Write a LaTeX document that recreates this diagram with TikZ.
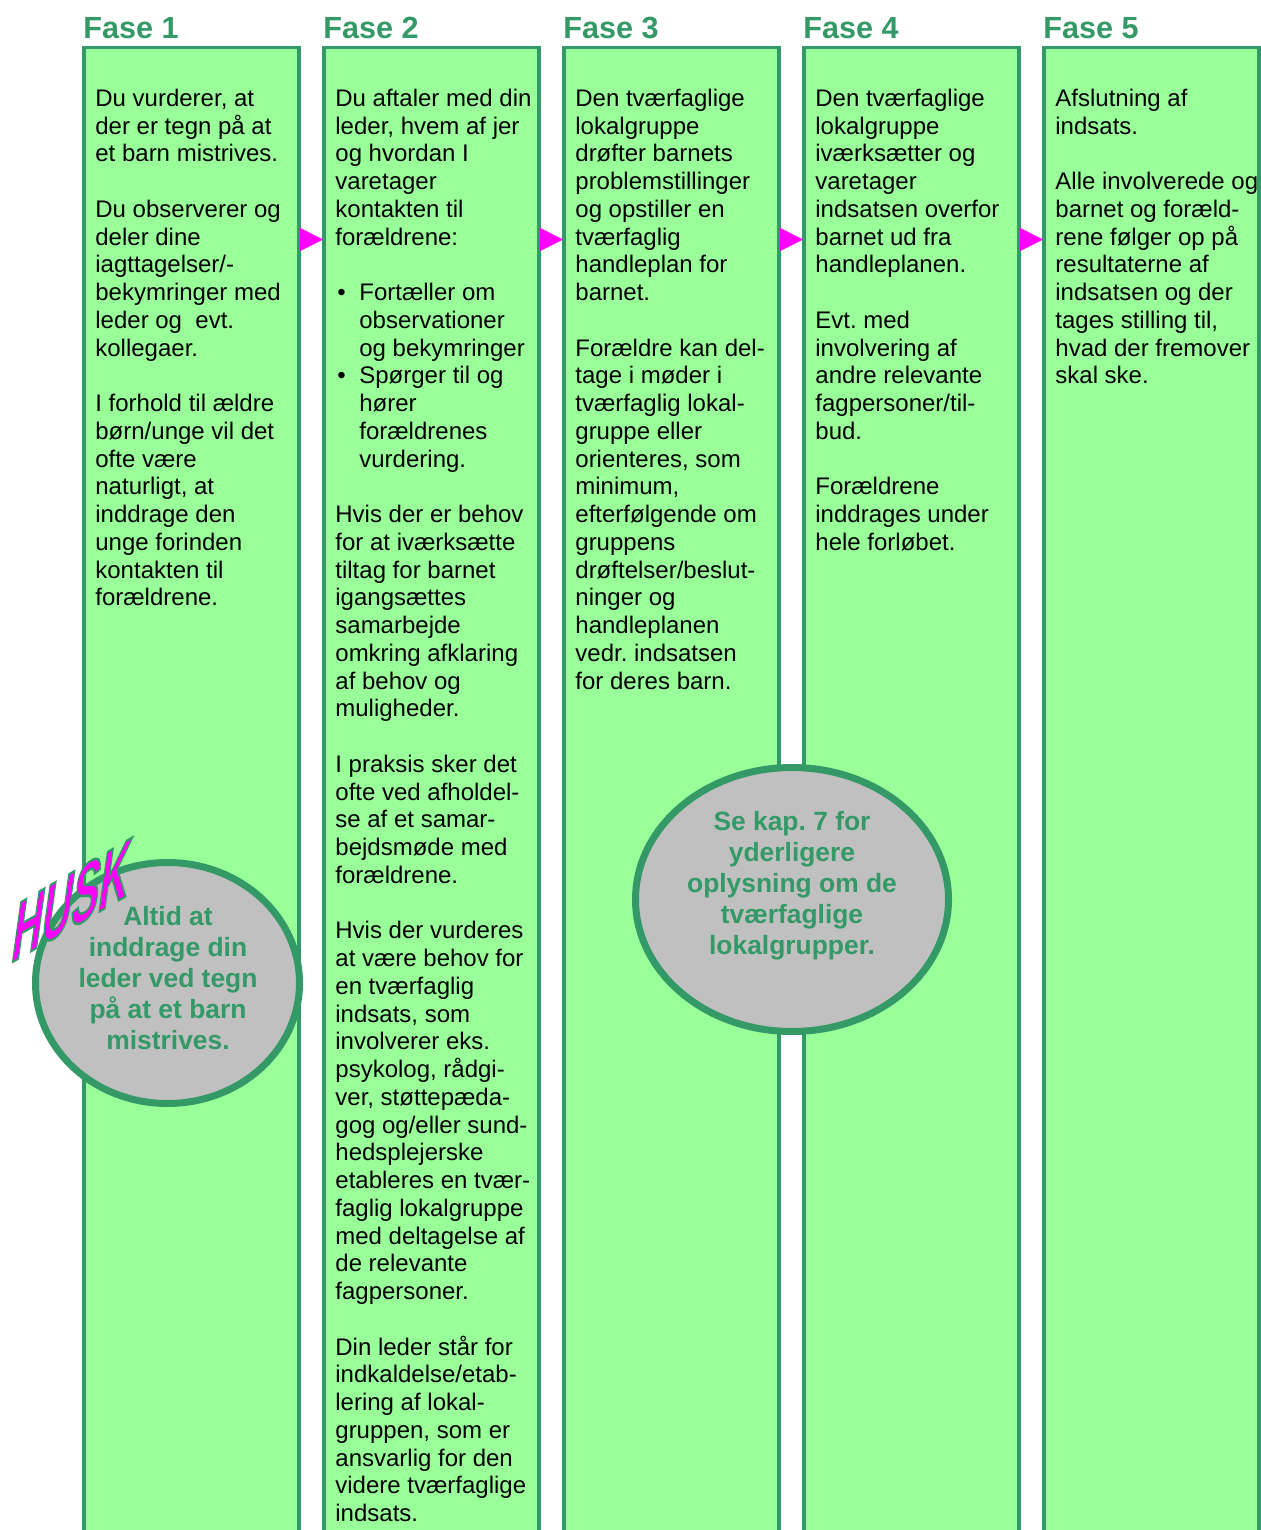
\documentclass[tikz,border=0pt]{standalone}
\usepackage{fontspec}
\setmainfont{Liberation Sans}
\usetikzlibrary{shapes.geometric,arrows.meta}

\definecolor{phasefill}{HTML}{99FF99}
\definecolor{phaseline}{HTML}{339966}
\definecolor{notefill}{HTML}{C0C0C0}
\definecolor{huskpink}{HTML}{FF00FF}
\newcommand{\blankline}{\\[\baselineskip]}
\newcommand{\bulletline}{\makebox[12pt][l]{\hspace{1pt}\textbullet}}
\newcommand{\bulletcont}{\hspace*{12pt}}
\frenchspacing

\begin{document}
\begin{tikzpicture}[x=0.5pt, y=-0.5pt,
	phase/.style={draw=phaseline, line width=1.85pt, fill=phasefill, anchor=north west, outer sep=0pt, inner sep=0pt, minimum width=107.5pt, minimum height=760pt},
	heading/.style={anchor=base west, inner sep=0pt, text=phaseline, font=\fontsize{15.3}{18}\selectfont\bfseries},
	body/.style={anchor=north west, align=left, inner sep=0pt, font=\fontsize{12}{13.875}\selectfont},
	note/.style={ellipse, draw=phaseline, line width=3.5pt, fill=notefill, inner sep=0pt},
	notetext/.style={align=center, inner sep=0pt, text=phaseline, font=\fontsize{13.2}{15.5}\selectfont\bfseries},
	husk/.style={inner sep=0pt, text=huskpink, font=\fontsize{20.5}{20}\selectfont\bfseries, yslant=0.58, xslant=0.15, yscale=1.95, transform shape},
	arrow/.style={draw=huskpink, line width=0.1pt, -{Triangle[length=11.5pt, width=11.5pt, fill=huskpink]}, shorten >=0.5pt}
]
\useasboundingbox (0,0) rectangle (1260,1530);

% phase columns
\node[phase] (f1) at (84,47.5) {};
\node[phase] (f2) at (324,47.5) {};
\node[phase] (f3) at (564,47.5) {};
\node[phase] (f4) at (804,47.5) {};
\node[phase] (f5) at (1044,47.5) {};

\node[heading] (h1) at (83,38.5) {Fase 1};
\node[heading] (h2) at (323,38.5) {Fase 2};
\node[heading] (h3) at (563,38.5) {Fase 3};
\node[heading] (h4) at (803,38.5) {Fase 4};
\node[heading] (h5) at (1043,38.5) {Fase 5};

% arrows between phases
\coordinate (arrowrow) at (0,239.5);
\draw[arrow] (f1.east |- arrowrow) -- (f2.west |- arrowrow);
\draw[arrow] (f2.east |- arrowrow) -- (f3.west |- arrowrow);
\draw[arrow] (f3.east |- arrowrow) -- (f4.west |- arrowrow);
\draw[arrow] (f4.east |- arrowrow) -- (f5.west |- arrowrow);

% phase texts
\node[body] (t1) at (95,88.5) {Du vurderer, at\\der er tegn på at\\et barn mistrives.\blankline
Du observerer og\\deler dine\\iagttagelser/-\\bekymringer med\\leder og \ evt.\\kollegaer.\blankline
I forhold til ældre\\børn/unge vil det\\ofte være\\naturligt, at\\inddrage den\\unge forinden\\kontakten til\\forældrene.};

\node[body] (t2) at (335,88.5) {Du aftaler med din\\leder, hvem af jer\\og hvordan I\\varetager\\kontakten til\\forældrene:\blankline
\bulletline Fortæller om\\\bulletcont observationer\\\bulletcont og bekymringer\\
\bulletline Spørger til og\\\bulletcont hører\\\bulletcont forældrenes\\\bulletcont vurdering.\blankline
Hvis der er behov\\for at iværksætte\\tiltag for barnet\\igangsættes\\samarbejde\\omkring afklaring\\af behov og\\muligheder.\blankline
I praksis sker det\\ofte ved afholdel-\\se af et samar-\\bejdsmøde med\\forældrene.\blankline
Hvis der vurderes\\at være behov for\\en tværfaglig\\indsats, som\\involverer eks.\\psykolog, rådgi-\\ver, støttepæda-\\gog og/eller sund-\\hedsplejerske\\etableres en tvær-\\faglig lokalgruppe\\med deltagelse af\\de relevante\\fagpersoner.\blankline
Din leder står for\\indkaldelse/etab-\\lering af lokal-\\gruppen, som er\\ansvarlig for den\\videre tværfaglige\\indsats.};

\node[body] (t3) at (575,88.5) {Den tværfaglige\\lokalgruppe\\drøfter barnets\\problemstillinger\\og opstiller en\\tværfaglig\\handleplan for\\barnet.\blankline
Forældre kan del-\\tage i møder i\\tværfaglig lokal-\\gruppe eller\\orienteres, som\\minimum,\\efterfølgende om\\gruppens\\drøftelser/beslut-\\ninger og\\handleplanen\\vedr. indsatsen\\for deres barn.};

\node[body] (t4) at (815,88.5) {Den tværfaglige\\lokalgruppe\\iværksætter og\\varetager\\indsatsen overfor\\barnet ud fra\\handleplanen.\blankline
Evt. med\\involvering af\\andre relevante\\fagpersoner/til-\\bud.\blankline
Forældrene\\inddrages under\\hele forløbet.};

\node[body] (t5) at (1055,88.5) {Afslutning af\\indsats.\blankline
Alle involverede og\\barnet og foræld-\\rene følger op på\\resultaterne af\\indsatsen og der\\tages stilling til,\\hvad der fremover\\skal ske.};

% reminder circles
\node[note, minimum width=132pt, minimum height=120.5pt] (huskcircle) at (167.5,983) {};
\node[notetext] (husktext) at (168,978) {Altid at\\inddrage din\\leder ved tegn\\på at et barn\\mistrives.};
\node[husk] (huskword) at (72,900) {\special{pdf:literal direct 0.2 0.6 0.4 RG 0.6 w 2 Tr}HUSK\special{pdf:literal direct 0 Tr}};

\node[note, minimum width=156.5pt, minimum height=132pt] (kapcircle) at (792,899.5) {};
\node[notetext] (kaptext) at (792,886) {Se kap. 7 for\\yderligere\\oplysning om de\\tværfaglige\\lokalgrupper.};
\end{tikzpicture}
\end{document}
